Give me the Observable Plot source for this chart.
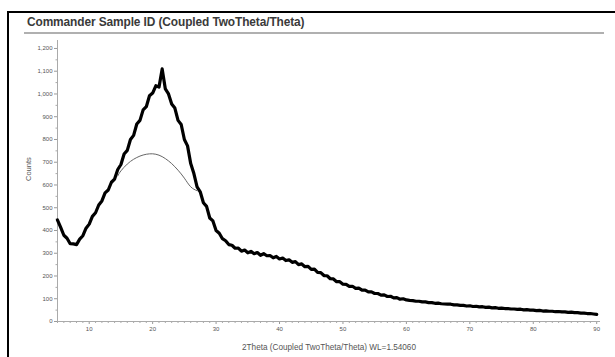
<!DOCTYPE html>
<html><head><meta charset="utf-8">
<script src="https://cdn.jsdelivr.net/npm/d3@7"></script>
<script src="https://cdn.jsdelivr.net/npm/@observablehq/plot@0.6"></script>
<style>
html,body{margin:0;padding:0;background:#fff;width:615px;height:357px;overflow:hidden;font-family:"Liberation Sans",Arial,sans-serif;}
#frame{position:absolute;left:7px;top:11px;width:700px;height:400px;border-top:2px solid #000;border-left:2px solid #000;}
#title{position:absolute;left:27px;top:15px;font-size:11.9px;font-weight:bold;color:#3a3a3a;white-space:nowrap;letter-spacing:-0.1px;}
#rule{position:absolute;left:24px;top:32px;width:580px;height:2px;background:#b0b0b0;}
#chart{position:absolute;left:0;top:0;}
</style></head><body>
<div id="frame"></div>
<div id="title">Commander Sample ID (Coupled TwoTheta/Theta)</div>
<div id="rule"></div>
<div id="chart"></div>
<script>
// Measured pattern: counts every 0.5° of 2Theta, from 5° to 90°
const angleStart = 5, angleStep = 0.5;
const counts = [
 446,414,379,366,342,341,338,362,377,410,   // 5.0 - 9.5
 428,462,478,512,530,565,578,612,626,668,   // 10.0 - 14.5
 690,736,752,800,818,868,884,930,944,992,   // 15.0 - 19.5
 1004,1036,1030,1110,1022,1000,956,938,884,866, // 20.0 - 24.5
 800,772,694,650,592,570,522,506,455,442,   // 25.0 - 29.5
 400,388,364,355,338,335,322,323,309,314,   // 30.0 - 34.5
 302,308,298,303,291,298,289,290,280,286,   // 35.0 - 39.5
 275,279,268,271,260,263,250,253,241,242,   // 40.0 - 44.5
 229,230,216,215,202,201,188,187,175,175,   // 45.0 - 49.5
 164,163,154,155,146,147,138,138,130,130,   // 50.0 - 54.5
 123,123,116,117,110,111,104,105,98,100,    // 55.0 - 59.5
 95,93,92,89,89,86,86,83,83,80,             // 60.0 - 64.5
 81,78,77,76,76,73,73,71,71,68,             // 65.0 - 69.5
 69,66,67,64,65,62,63,60,61,58,             // 70.0 - 74.5
 59,57,57,55,55,53,54,51,52,50,             // 75.0 - 79.5
 50,48,49,46,47,45,45,43,44,42,             // 80.0 - 84.5
 42,40,41,39,39,37,37,35,35,33,             // 85.0 - 89.5
 31                                          // 90.0
];
// Fitted amorphous hump (thin curve)
const fitAngles = [14.5,15,16,17,18,19,20,21,22,23,24,25,26,27];
const fitCounts = [640,662,692,713,727,735,737,731,716,694,665,630,592,575];

const yTicks = [0,100,200,300,400,500,600,700,800,900,1000,1100,1200];
const xTicks = [10,20,30,40,50,60,70,80,90];
const xTitle = "2Theta (Coupled TwoTheta/Theta) WL=1.54060";
const yTitle = "Counts";

const pattern = counts.map((c, i) => ({angle: angleStart + i * angleStep, counts: c}));
const fit = fitAngles.map((a, i) => ({angle: a, counts: fitCounts[i]}));
const yMinor = d3.range(50, 1250, 100);
const xMinor = d3.range(5, 91, 1).filter(d => d % 10 !== 0);

const chart = Plot.plot({
  width: 615, height: 357,
  marginLeft: 57, marginRight: 15, marginTop: 40, marginBottom: 36,
  style: {fontFamily: "Liberation Sans, Arial, sans-serif", fontSize: "6px", color: "#555", background: "transparent", overflow: "visible"},
  x: {domain: [5, 90.6]},
  y: {domain: [0, 1235]},
  marks: [
    Plot.axisY({ticks: yTicks, tickSize: 3, tickPadding: 2, tickFormat: d3.format(","), stroke: "#999", label: null}),
    Plot.axisY({ticks: yMinor, tickSize: 1.5, tickFormat: () => "", stroke: "#aaa", label: null}),
    Plot.axisX({ticks: xTicks, tickSize: 3, tickPadding: 2, stroke: "#999", label: null}),
    Plot.axisX({ticks: xMinor, tickSize: 2, tickFormat: () => "", stroke: "#aaa", label: null}),
    Plot.ruleX([5], {stroke: "#aaa"}),
    Plot.ruleY([0], {stroke: "#aaa"}),
    Plot.line(pattern, {x: "angle", y: "counts", stroke: "#000", strokeWidth: 3.2, strokeLinejoin: "round"}),
    Plot.line(fit, {x: "angle", y: "counts", stroke: "#666", strokeWidth: 1, curve: "natural"}),
    Plot.text([yTitle], {frameAnchor: "left", dx: -29, rotate: -90, fontSize: 7.5, fill: "#555"}),
    Plot.text([xTitle], {frameAnchor: "bottom", dy: 28, fontSize: 8.2, fill: "#555"})
  ]
});
document.getElementById("chart").appendChild(chart);
</script>
</body></html>
